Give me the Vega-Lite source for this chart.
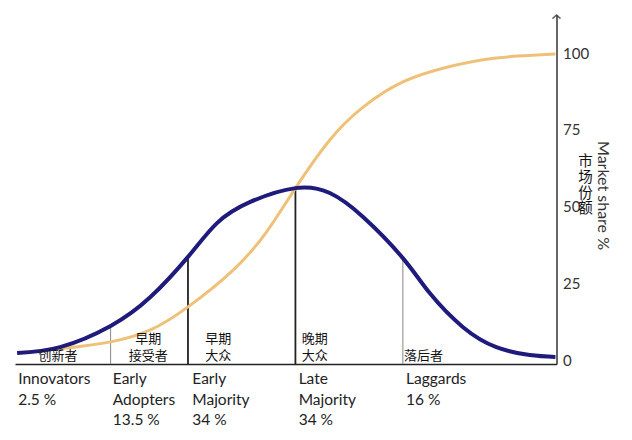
{
  "$schema": "https://vega.github.io/schema/vega-lite/v6.json",
  "width": 541.5,
  "height": 349,
  "autosize": {"type": "none"},
  "padding": {"left": 15, "top": 15, "right": 75, "bottom": 76},
  "background": "white",
  "config": {
    "view": {"stroke": null},
    "font": "Lato",
    "axis": {"grid": false}
  },
  "datasets": {
    "adoption": [
      {"sd": -2.59, "share": 2.3},
      {"sd": -2.19, "share": 4.2},
      {"sd": -1.72, "share": 11.1},
      {"sd": -1.35, "share": 20.5},
      {"sd": -1.0, "share": 33.6},
      {"sd": -0.73, "share": 44.6},
      {"sd": -0.42, "share": 51.5},
      {"sd": 0, "share": 56.0},
      {"sd": 0.32, "share": 54.4},
      {"sd": 0.63, "share": 46.6},
      {"sd": 1.0, "share": 33.2},
      {"sd": 1.25, "share": 21.8},
      {"sd": 1.56, "share": 10.7},
      {"sd": 1.87, "share": 4.2},
      {"sd": 2.18, "share": 1.6},
      {"sd": 2.42, "share": 1.0}
    ],
    "market": [
      {"sd": -2.59, "share": 2.3},
      {"sd": -2.13, "share": 3.9},
      {"sd": -1.72, "share": 5.9},
      {"sd": -1.35, "share": 9.8},
      {"sd": -1.0, "share": 17.3},
      {"sd": -0.58, "share": 29.3},
      {"sd": -0.27, "share": 41.7},
      {"sd": 0, "share": 56.0},
      {"sd": 0.32, "share": 71.7},
      {"sd": 0.63, "share": 82.4},
      {"sd": 1.0, "share": 90.6},
      {"sd": 1.41, "share": 95.4},
      {"sd": 1.87, "share": 98.4},
      {"sd": 2.42, "share": 99.7}
    ],
    "bounds": [
      {"sd": -1.72, "top": 11.1, "kind": "minor"},
      {"sd": -1.0, "top": 33.6, "kind": "major"},
      {"sd": 0, "top": 56.0, "kind": "major"},
      {"sd": 1.0, "top": 33.2, "kind": "minor"}
    ],
    "groups": [
      {"sd": -2.58, "name": ["Innovators", "2.5 %"]},
      {"sd": -1.7, "name": ["Early", "Adopters", "13.5 %"]},
      {"sd": -0.96, "name": ["Early", "Majority", "34 %"]},
      {"sd": 0.03, "name": ["Late", "Majority", "34 %"]},
      {"sd": 1.03, "name": ["Laggards", "16 %"]}
    ],
    "zh": [
      {"sd": -2.21, "label": ["创新者"], "align": "center"},
      {"sd": -1.37, "label": ["早期", "接受者"], "align": "center"},
      {"sd": -0.84, "label": ["早期", "大众"], "align": "left"},
      {"sd": 0.06, "label": ["晚期", "大众"], "align": "left"},
      {"sd": 1.01, "label": ["落后者"], "align": "left"}
    ]
  },
  "layer": [
    {
      "data": {"name": "bounds"},
      "mark": {"type": "rule"},
      "encoding": {
        "x": {"field": "sd", "type": "quantitative", "scale": {"domain": [-2.61, 2.43], "nice": false, "zero": false},
              "axis": {"orient": "bottom", "labels": false, "ticks": false, "title": null, "domainColor": "#222", "domainWidth": 1.5}},
        "y": {"field": "top", "type": "quantitative", "scale": {"domain": [-1.3, 112.4], "nice": false, "zero": false},
              "axis": {"orient": "right", "values": [0, 25, 50, 75, 100], "ticks": false, "labelPadding": 6,
                       "labelFontSize": 15, "labelColor": "#333", "labelFont": "Lato",
                       "domainColor": "#333", "domainWidth": 1.5,
                       "title": "Market share %", "titleAngle": 90, "titleFontSize": 16, "titleFontWeight": "normal",
                       "titleColor": "#333", "titleX": 46, "titleY": 180, "titleAlign": "center", "titleBaseline": "middle"}},
        "y2": {"datum": -1.3},
        "stroke": {"field": "kind", "type": "nominal", "scale": {"domain": ["major", "minor"], "range": ["#222", "#888"]}, "legend": null},
        "strokeWidth": {"field": "kind", "type": "nominal", "scale": {"domain": ["major", "minor"], "range": [1.8, 1]}, "legend": null}
      }
    },
    {
      "data": {"name": "market"},
      "mark": {"type": "line", "interpolate": "natural", "color": "#efc178", "strokeWidth": 3},
      "encoding": {
        "x": {"field": "sd", "type": "quantitative"},
        "y": {"field": "share", "type": "quantitative"}
      }
    },
    {
      "data": {"name": "adoption"},
      "mark": {"type": "line", "interpolate": "natural", "color": "#1f1b7c", "strokeWidth": 4},
      "encoding": {
        "x": {"field": "sd", "type": "quantitative"},
        "y": {"field": "share", "type": "quantitative"}
      }
    },
    {
      "data": {"name": "zh"},
      "transform": [{"filter": "datum.align == 'center'"}, {"calculate": "length(datum.label) == 2 ? 4.6 : -1.0", "as": "ty"}],
      "mark": {"type": "text", "align": "center", "baseline": "bottom", "font": "Noto Sans CJK SC", "fontSize": 13, "lineHeight": 17, "color": "#111"},
      "encoding": {
        "x": {"field": "sd", "type": "quantitative"},
        "y": {"field": "ty", "type": "quantitative"},
        "text": {"field": "label"}
      }
    },
    {
      "data": {"name": "zh"},
      "transform": [{"filter": "datum.align == 'left'"}, {"calculate": "length(datum.label) == 2 ? 4.6 : -1.0", "as": "ty"}],
      "mark": {"type": "text", "align": "left", "baseline": "bottom", "font": "Noto Sans CJK SC", "fontSize": 13, "lineHeight": 17, "color": "#111"},
      "encoding": {
        "x": {"field": "sd", "type": "quantitative"},
        "y": {"field": "ty", "type": "quantitative"},
        "text": {"field": "label"}
      }
    },
    {
      "data": {"name": "groups"},
      "mark": {"type": "text", "align": "left", "baseline": "top", "fontSize": 15.5, "lineHeight": 20.5, "color": "#222"},
      "encoding": {
        "x": {"field": "sd", "type": "quantitative"},
        "y": {"datum": -4.0},
        "text": {"field": "name"}
      }
    },
    {
      "data": {"values": [{"label": ["市", "场", "份", "额"]}]},
      "mark": {"type": "text", "align": "center", "baseline": "top", "font": "Noto Sans CJK SC", "fontSize": 14.5, "lineHeight": 15.8, "color": "#111"},
      "encoding": {
        "x": {"datum": 2.7},
        "y": {"datum": 66.8},
        "text": {"field": "label"}
      }
    },
    {
      "data": {"values": [{}]},
      "mark": {"type": "point", "shape": "M-1,0.9L0,0L1,0.9", "filled": false, "stroke": "#222", "strokeWidth": 1.5, "size": 64},
      "encoding": {
        "x": {"datum": 2.43},
        "y": {"datum": 112.4}
      }
    }
  ]
}
